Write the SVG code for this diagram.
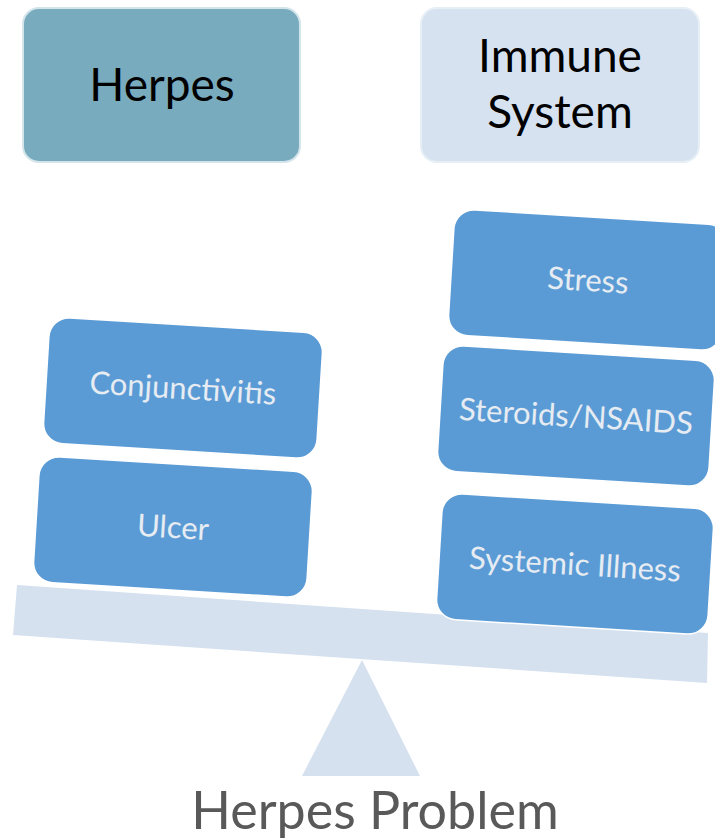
<svg xmlns="http://www.w3.org/2000/svg" width="715" height="840" viewBox="0 0 715 840">
<style>
.top{stroke-width:2}
.blk{fill:#5b9bd5;stroke:#ffffff;stroke-width:1.5}
.bt{font-family:Lato,"Open Sans",sans-serif;font-size:31px;fill:#e6ecf2;text-anchor:middle}
.ht{font-family:Lato,"Open Sans",sans-serif;font-size:46px;fill:#000000;text-anchor:middle}
.pale{fill:#d5e1ef}
</style>
<rect width="715" height="840" fill="#ffffff"/>
<g id="herpes">
<rect x="23" y="8" width="277" height="154" rx="16" fill="#79abbe" stroke="#d3e4eb" class="top"/>
<text x="162" y="101" class="ht">Herpes</text>
</g>
<g id="immune-system">
<rect x="421" y="8" width="278" height="154" rx="16" fill="#d6e2f0" stroke="#e6eef6" class="top"/>
<text x="560" y="72" class="ht">Immune</text>
<text x="560" y="128" class="ht">System</text>
</g>
<g id="fulcrum">
<polygon points="362,660 302,776 420,776" class="pale"/>
</g>
<g id="beam">
<polygon points="17,585 708,633 707,683 13,635" class="pale"/>
</g>
<g id="conjunctivitis" transform="translate(183,388) rotate(3.5)">
<rect x="-137" y="-63" width="274" height="126" rx="20" class="blk"/>
<text x="0" y="11" class="bt">Conjunctivitis</text>
</g>
<g id="ulcer" transform="translate(173,527) rotate(3.5)">
<rect x="-137" y="-63" width="274" height="126" rx="20" class="blk"/>
<text x="0" y="11" class="bt">Ulcer</text>
</g>
<g id="stress" transform="translate(588,280) rotate(3.5)">
<rect x="-137" y="-63" width="274" height="126" rx="20" class="blk"/>
<text x="0" y="11" class="bt">Stress</text>
</g>
<g id="steroids" transform="translate(576,416) rotate(3.5)">
<rect x="-136" y="-63" width="272" height="126" rx="20" class="blk"/>
<text x="0" y="11" class="bt">Steroids/NSAIDS</text>
</g>
<g id="systemic-illness" transform="translate(575,564) rotate(3.5)">
<rect x="-136" y="-63" width="272" height="126" rx="20" class="blk"/>
<text x="0" y="11" class="bt">Systemic Illness</text>
</g>
<g id="connectors"></g>
<text x="375" y="829" font-family="Lato,'Open Sans',sans-serif" font-size="52" fill="#595959" text-anchor="middle">Herpes Problem</text>
</svg>
